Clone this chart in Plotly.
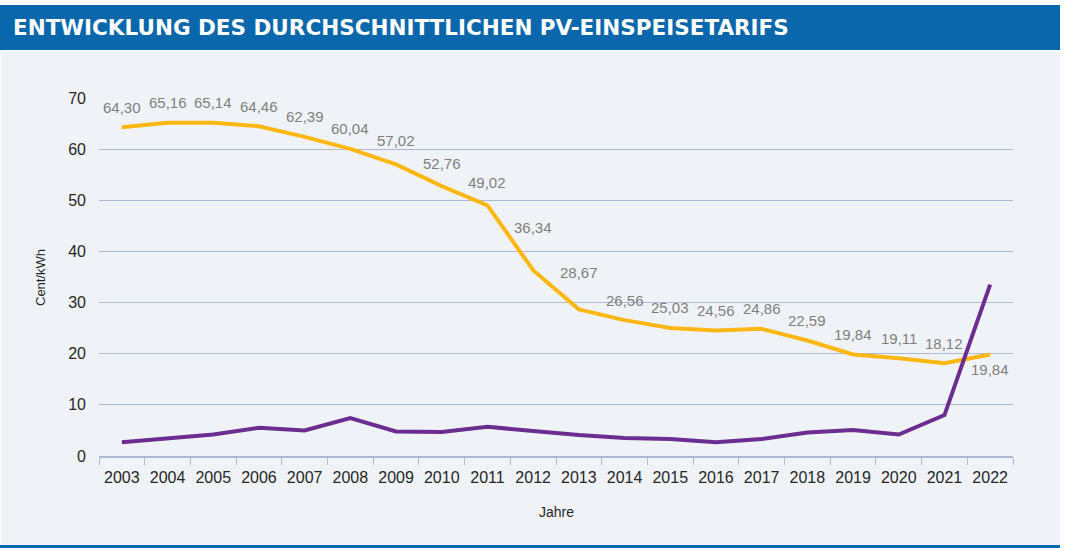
import plotly.graph_objects as go

years = [str(y) for y in range(2003, 2023)]
tarif = [64.30, 65.16, 65.14, 64.46, 62.39, 60.04, 57.02, 52.76, 49.02, 36.34,
         28.67, 26.56, 25.03, 24.56, 24.86, 22.59, 19.84, 19.11, 18.12, 19.84]
tarif_labels = ["64,30", "65,16", "65,14", "64,46", "62,39", "60,04", "57,02", "52,76",
                "49,02", "36,34", "28,67", "26,56", "25,03", "24,56", "24,86", "22,59",
                "19,84", "19,11", "18,12", "19,84"]
second = [2.7, 3.4, 4.2, 5.5, 5.0, 7.4, 4.8, 4.7, 5.7, 4.9,
          4.1, 3.5, 3.3, 2.7, 3.3, 4.6, 5.1, 4.2, 8.0, 33.5]
y_ticks = [0, 10, 20, 30, 40, 50, 60, 70]

title = "ENTWICKLUNG DES DURCHSCHNITTLICHEN PV-EINSPEISETARIFS"
y_title = "Cent/kWh"
x_title = "Jahre"

FW, FH = 1067, 548
L, R, T, B = 99, 54, 98, 92
PW, PH = FW - L - R, FH - T - B

def px(x):
    return (x - L) / PW

def py(y):
    return (FH - B - y) / PH

YELLOW = "#FDB714"
PURPLE = "#6B2D90"
GRID = "#AEB9D1"
PANEL = "#EFF3F8"
BLUE = "#0B67AB"
FONT = "Liberation Sans"

fig = go.Figure()
fig.add_trace(go.Scatter(x=years, y=tarif, mode="lines",
                         line=dict(color=YELLOW, width=4), hoverinfo="skip"))
fig.add_trace(go.Scatter(x=years, y=second, mode="lines",
                         line=dict(color=PURPLE, width=4), hoverinfo="skip"))

# label offsets (style only)
shift_over = {"2012": 43, "2013": 37, "2009": 24, "2010": 23, "2011": 23, "2022": -15}
for i, (yr, v, lab) in enumerate(zip(years, tarif, tarif_labels)):
    fig.add_annotation(x=i, y=v, text=lab, showarrow=False,
                       yshift=shift_over.get(yr, 20),
                       font=dict(family=FONT, size=15, color="#7F7F7F"))

shapes = [
    dict(type="rect", xref="paper", yref="paper", x0=px(1), x1=px(1060),
         y0=py(545), y1=py(52), fillcolor=PANEL, line=dict(width=0), layer="below"),
    dict(type="rect", xref="paper", yref="paper", x0=px(0), x1=px(1060),
         y0=py(50), y1=py(5), fillcolor=BLUE, line=dict(width=0), layer="below"),
    dict(type="rect", xref="paper", yref="paper", x0=px(0), x1=px(1060),
         y0=py(548), y1=py(545), fillcolor=BLUE, line=dict(width=0), layer="below"),
]

fig.add_annotation(xref="paper", yref="paper", x=px(11), y=py(27), xanchor="left",
                   yanchor="middle", showarrow=False, text="<b>" + title + "</b>",
                   font=dict(family="DejaVu Sans", size=21.5, color="white"))
fig.add_annotation(xref="paper", yref="paper", x=px(40), y=py(278), textangle=-90,
                   xanchor="center", yanchor="middle", showarrow=False, text=y_title,
                   font=dict(family=FONT, size=13, color="#262626"))
fig.add_annotation(xref="paper", yref="paper", x=0.5, y=py(512),
                   xanchor="center", yanchor="middle", showarrow=False, text=x_title,
                   font=dict(family=FONT, size=14, color="#262626"))

fig.update_layout(
    width=FW, height=FH, margin=dict(l=L, r=R, t=T, b=B, autoexpand=False),
    paper_bgcolor="white", plot_bgcolor="rgba(0,0,0,0)",
    showlegend=False, shapes=shapes,
    font=dict(family=FONT, size=16, color="#262626"),
)
fig.update_xaxes(type="category", range=[-0.5, len(years) - 0.5],
                 tickson="boundaries", ticks="outside", ticklen=7,
                 tickcolor=GRID, showline=True, linecolor=GRID, linewidth=1.5,
                 showgrid=False, ticklabelstandoff=6, tickangle=0,
                 tickfont=dict(family=FONT, size=16, color="#262626"))
fig.update_yaxes(range=[0, 70], tickvals=y_ticks, showgrid=True, gridcolor=GRID,
                 gridwidth=1, zeroline=False, showline=False, ticks="",
                 ticklabelstandoff=12,
                 tickfont=dict(family=FONT, size=16, color="#262626"))

fig.write_html("out.html", config={"displayModeBar": False},
               post_script="document.body.style.margin='0';")
